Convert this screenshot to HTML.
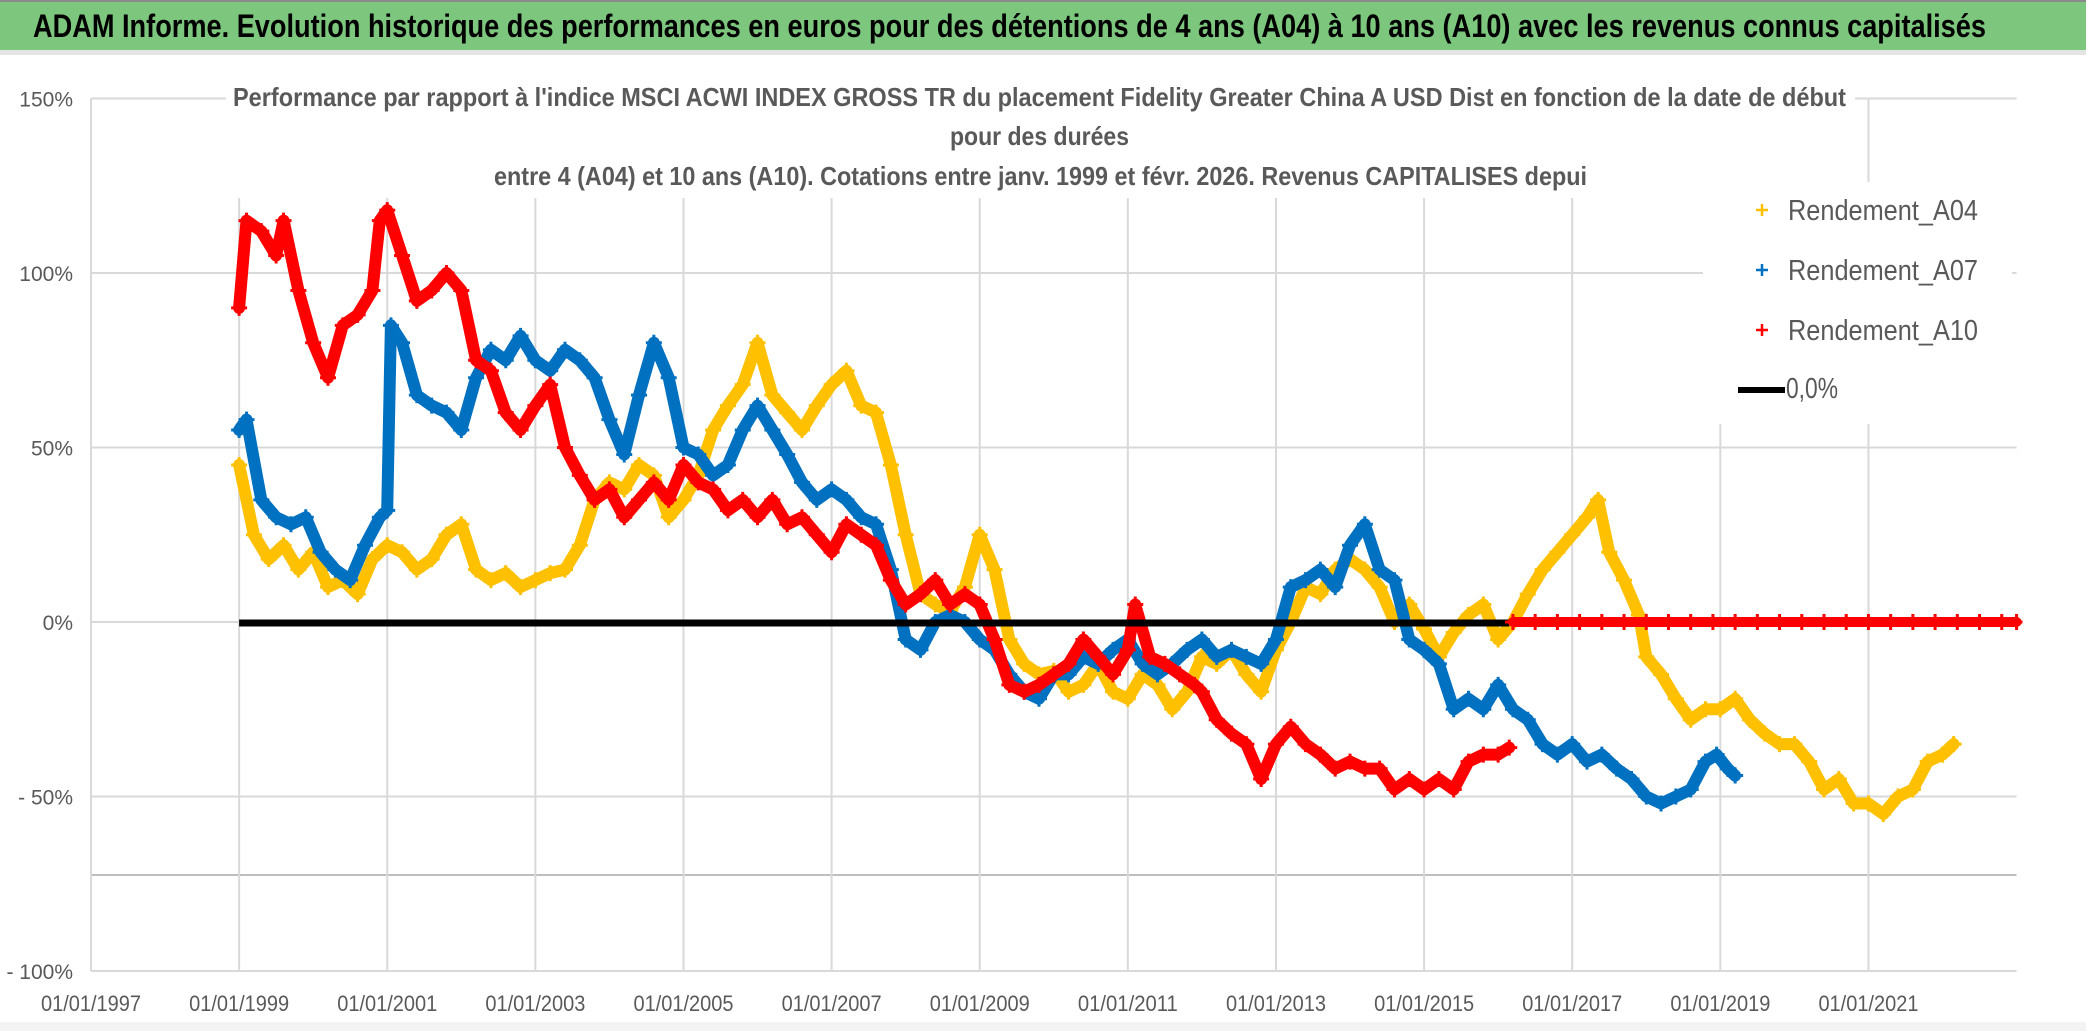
<!DOCTYPE html>
<html><head><meta charset="utf-8"><style>
html,body{margin:0;padding:0;background:#fff;}
svg{display:block;font-family:"Liberation Sans",sans-serif;}
</style></head><body>
<svg id="chart" width="2086" height="1031" viewBox="0 0 2086 1031" xmlns="http://www.w3.org/2000/svg">
<rect x="0" y="0" width="2086" height="1031" fill="#fff"/>
<rect x="0" y="0" width="2086" height="50" fill="#7dc67d"/>
<line x1="0" y1="1" x2="2086" y2="1" stroke="#8a8a8a" stroke-width="2"/>
<rect x="0" y="50" width="2086" height="5" fill="#e4e4e4"/>
<text x="33" y="37" font-size="32" font-weight="bold" fill="#000" textLength="1953" lengthAdjust="spacingAndGlyphs">ADAM Informe. Evolution historique des performances en euros pour des détentions de 4 ans (A04) à 10 ans (A10) avec les revenus connus capitalisés</text>
<g id="grid"></g>
<g id="marks"></g>
<rect x="226" y="68" width="1629" height="130" fill="#fff"/>
<g font-weight="bold" fill="#595959" font-size="26">
<text x="233" y="106" textLength="1613" lengthAdjust="spacingAndGlyphs">Performance par rapport à l'indice MSCI ACWI INDEX GROSS TR  du placement Fidelity Greater China A USD Dist en fonction de la date de début</text>
<text x="950" y="145" textLength="179" lengthAdjust="spacingAndGlyphs">pour des durées</text>
<text x="494" y="185" textLength="1093" lengthAdjust="spacingAndGlyphs">entre 4 (A04) et 10 ans (A10). Cotations entre janv. 1999 et févr. 2026. Revenus CAPITALISES depui</text>
</g>
<g id="legend">
<rect x="1703" y="182" width="309" height="242" fill="#fff"/>
<path d="M1756 210h12M1762 204v12" stroke="#ffc000" stroke-width="2.5"/>
<text x="1788" y="220" font-size="29" fill="#595959" textLength="190" lengthAdjust="spacingAndGlyphs">Rendement_A04</text>
<path d="M1756 270h12M1762 264v12" stroke="#0070c0" stroke-width="2.5"/>
<text x="1788" y="280" font-size="29" fill="#595959" textLength="190" lengthAdjust="spacingAndGlyphs">Rendement_A07</text>
<path d="M1756 330h12M1762 324v12" stroke="#ff0000" stroke-width="2.5"/>
<text x="1788" y="340" font-size="29" fill="#595959" textLength="190" lengthAdjust="spacingAndGlyphs">Rendement_A10</text>
<line x1="1738" y1="390" x2="1785" y2="390" stroke="#000" stroke-width="6"/>
<text x="1786" y="398" font-size="29" fill="#595959" textLength="52" lengthAdjust="spacingAndGlyphs">0,0%</text>
</g>
<g id="axes"></g>
<rect x="0" y="1022" width="2086" height="9" fill="#f3f3f3"/>
</svg>
<script>
const yTicks = [150, 100, 50, 0, -50, -100];
const yTickLabels = ["150%", "100%", "50%", "0%", "- 50%", "- 100%"];
const xTickYears = [1997, 1999, 2001, 2003, 2005, 2007, 2009, 2011, 2013, 2015, 2017, 2019, 2021];
const xTickLabels = ["01/01/1997","01/01/1999","01/01/2001","01/01/2003","01/01/2005","01/01/2007","01/01/2009","01/01/2011","01/01/2013","01/01/2015","01/01/2017","01/01/2019","01/01/2021"];

const a04Years = [1999.0,1999.2,1999.4,1999.6,1999.8,2000.0,2000.2,2000.4,2000.6,2000.8,2001.0,2001.2,2001.4,2001.6,2001.8,2002.0,2002.2,2002.4,2002.6,2002.8,2003.0,2003.2,2003.4,2003.6,2003.8,2004.0,2004.2,2004.4,2004.6,2004.8,2005.0,2005.2,2005.4,2005.6,2005.8,2006.0,2006.2,2006.4,2006.6,2006.8,2007.0,2007.2,2007.4,2007.6,2007.8,2008.0,2008.2,2008.4,2008.6,2008.8,2009.0,2009.2,2009.4,2009.6,2009.8,2010.0,2010.2,2010.4,2010.6,2010.8,2011.0,2011.2,2011.4,2011.6,2011.8,2012.0,2012.2,2012.4,2012.6,2012.8,2013.0,2013.2,2013.4,2013.6,2013.8,2014.0,2014.2,2014.4,2014.6,2014.8,2015.0,2015.2,2015.4,2015.6,2015.8,2016.0,2016.2,2016.4,2016.6,2016.8,2017.0,2017.2,2017.35,2017.5,2017.7,2017.9,2018.0,2018.2,2018.4,2018.6,2018.8,2019.0,2019.2,2019.4,2019.6,2019.8,2020.0,2020.2,2020.4,2020.6,2020.8,2021.0,2021.2,2021.4,2021.6,2021.8,2022.0,2022.15];
const a04Values = [45,25,18,22,15,20,10,12,8,18,22,20,15,18,25,28,15,12,14,10,12,14,15,22,35,40,38,45,42,30,35,42,55,62,68,80,65,60,55,62,68,72,62,60,45,25,8,5,3,10,25,15,-5,-12,-15,-14,-20,-18,-12,-20,-22,-15,-18,-25,-20,-10,-12,-8,-15,-20,-8,0,10,8,15,18,15,10,0,5,-2,-10,-3,2,5,-5,0,8,15,20,25,30,35,20,12,2,-10,-15,-22,-28,-25,-25,-22,-28,-32,-35,-35,-40,-48,-45,-52,-52,-55,-50,-48,-40,-38,-35];

const a07Years = [1999.0,1999.1,1999.3,1999.5,1999.7,1999.9,2000.1,2000.3,2000.5,2000.7,2000.9,2001.0,2001.05,2001.2,2001.4,2001.6,2001.8,2002.0,2002.2,2002.4,2002.6,2002.8,2003.0,2003.2,2003.4,2003.6,2003.8,2004.0,2004.2,2004.4,2004.6,2004.8,2005.0,2005.2,2005.4,2005.6,2005.8,2006.0,2006.2,2006.4,2006.6,2006.8,2007.0,2007.2,2007.4,2007.6,2007.8,2008.0,2008.2,2008.4,2008.6,2008.8,2009.0,2009.2,2009.4,2009.6,2009.8,2010.0,2010.2,2010.4,2010.6,2010.8,2011.0,2011.2,2011.4,2011.6,2011.8,2012.0,2012.2,2012.4,2012.6,2012.8,2013.0,2013.2,2013.4,2013.6,2013.8,2014.0,2014.2,2014.4,2014.6,2014.8,2015.0,2015.2,2015.4,2015.6,2015.8,2016.0,2016.2,2016.4,2016.6,2016.8,2017.0,2017.2,2017.4,2017.6,2017.8,2018.0,2018.2,2018.4,2018.6,2018.8,2018.95,2019.1,2019.2];
const a07Values = [55,58,35,30,28,30,20,15,12,22,30,32,85,80,65,62,60,55,70,78,75,82,75,72,78,75,70,58,48,65,80,70,50,48,42,45,55,62,55,48,40,35,38,35,30,28,15,-5,-8,0,2,0,-5,-8,-15,-20,-22,-15,-15,-10,-12,-8,-5,-12,-15,-12,-8,-5,-10,-8,-10,-12,-5,10,12,15,10,22,28,15,12,-5,-8,-12,-25,-22,-25,-18,-25,-28,-35,-38,-35,-40,-38,-42,-45,-50,-52,-50,-48,-40,-38,-42,-44];

const a10Years = [1999.0,1999.1,1999.3,1999.5,1999.6,1999.8,2000.0,2000.2,2000.4,2000.6,2000.8,2000.9,2001.0,2001.2,2001.4,2001.6,2001.8,2002.0,2002.2,2002.4,2002.6,2002.8,2003.0,2003.2,2003.4,2003.6,2003.8,2004.0,2004.2,2004.4,2004.6,2004.8,2005.0,2005.2,2005.4,2005.6,2005.8,2006.0,2006.2,2006.4,2006.6,2006.8,2007.0,2007.2,2007.4,2007.6,2007.8,2008.0,2008.2,2008.4,2008.6,2008.8,2009.0,2009.2,2009.4,2009.6,2009.8,2010.0,2010.2,2010.4,2010.6,2010.8,2011.0,2011.1,2011.3,2011.5,2011.7,2011.9,2012.0,2012.2,2012.4,2012.6,2012.8,2013.0,2013.2,2013.4,2013.6,2013.8,2014.0,2014.2,2014.4,2014.6,2014.8,2015.0,2015.2,2015.4,2015.6,2015.8,2016.0,2016.15];
const a10Values = [90,115,112,105,115,95,80,70,85,88,95,115,118,105,92,95,100,95,75,72,60,55,62,68,50,42,35,38,30,35,40,35,45,40,38,32,35,30,35,28,30,25,20,28,25,22,12,5,8,12,5,8,5,-5,-18,-20,-18,-15,-12,-5,-10,-15,-8,5,-10,-12,-15,-18,-20,-28,-32,-35,-45,-35,-30,-35,-38,-42,-40,-42,-42,-48,-45,-48,-45,-48,-40,-38,-38,-36];

const a10ZeroYears = [2016.2,2016.5,2016.8,2017.1,2017.4,2017.7,2018.0,2018.3,2018.6,2018.9,2019.2,2019.5,2019.8,2020.1,2020.4,2020.7,2021.0,2021.3,2021.6,2021.9,2022.2,2022.5,2022.8,2023.0];
const a10ZeroValues = [0,0,0,0,0,0,0,0,0,0,0,0,0,0,0,0,0,0,0,0,0,0,0,0];
const zeroLineYears = [1999.0, 2016.15];
const zeroLineValues = [0, 0];

const X0 = 91, PX_PER_YEAR = 74.06, Y0 = 622, PX_PER_PCT = 3.49;
function xScale(yr){ return X0 + (yr - 1997) * PX_PER_YEAR; }
function yScale(v){ return Y0 - v * PX_PER_PCT; }
const NS = "http://www.w3.org/2000/svg";
const grid = document.getElementById('grid');
const marks = document.getElementById('marks');
const axes = document.getElementById('axes');
const plotRight = xScale(2023);

yTicks.forEach((t, i) => {
  const y = yScale(t);
  const l = document.createElementNS(NS, 'line');
  
  
  l.setAttribute('x1', X0); l.setAttribute('x2', plotRight);
  l.setAttribute('y1', y); l.setAttribute('y2', y);
  l.setAttribute('stroke', '#d9d9d9'); l.setAttribute('stroke-width', '2');
  grid.appendChild(l);
  const tx = document.createElementNS(NS, 'text');
  
  
  tx.setAttribute('x', 73); tx.setAttribute('y', y + 8);
  tx.setAttribute('text-anchor', 'end');
  tx.setAttribute('font-size', '21'); tx.setAttribute('fill', '#595959');
  tx.textContent = yTickLabels[i];
  axes.appendChild(tx);
});
const extra = document.createElementNS(NS, 'line');


extra.setAttribute('x1', X0); extra.setAttribute('x2', plotRight);
extra.setAttribute('y1', 875); extra.setAttribute('y2', 875);
extra.setAttribute('stroke', '#bfbfbf'); extra.setAttribute('stroke-width', '2');
grid.appendChild(extra);

xTickYears.forEach((yr, i) => {
  const x = xScale(yr);
  const l = document.createElementNS(NS, 'line');
  
  
  l.setAttribute('x1', x); l.setAttribute('x2', x);
  l.setAttribute('y1', yScale(150)); l.setAttribute('y2', yScale(-100));
  l.setAttribute('stroke', '#d9d9d9'); l.setAttribute('stroke-width', '2');
  grid.appendChild(l);
  const tx = document.createElementNS(NS, 'text');
  
  
  tx.setAttribute('x', x - 50); tx.setAttribute('y', 1011);
  tx.setAttribute('font-size', '22'); tx.setAttribute('fill', '#595959');
  tx.setAttribute('textLength', '100'); tx.setAttribute('lengthAdjust', 'spacingAndGlyphs');
  tx.textContent = xTickLabels[i];
  axes.appendChild(tx);
});

const clip = document.createElementNS(NS, 'clipPath');
clip.setAttribute('id', 'plotclip');


const cr = document.createElementNS(NS, 'rect');


cr.setAttribute('x', X0); cr.setAttribute('y', 198);
cr.setAttribute('width', plotRight - X0 + 6); cr.setAttribute('height', 780);
clip.appendChild(cr);
document.getElementById('chart').insertBefore(clip, grid);
marks.setAttribute('clip-path', 'url(#plotclip)');

function drawSeries(years, values, color, name, width){
  const pts = years.map((yr, i) => xScale(yr).toFixed(1) + ',' + yScale(values[i]).toFixed(1)).join(' ');
  const pl = document.createElementNS(NS, 'polyline');
  
  
  pl.setAttribute('points', pts);
  pl.setAttribute('fill', 'none'); pl.setAttribute('stroke', color);
  pl.setAttribute('stroke-width', width); pl.setAttribute('stroke-linejoin', 'round');
  pl.setAttribute('stroke-linecap', 'round');
  marks.appendChild(pl);
  years.forEach((yr, i) => {
    const x = xScale(yr), y = yScale(values[i]);
    const p = document.createElementNS(NS, 'path');
    
    
    p.setAttribute('d', 'M' + (x - 8) + ' ' + y + 'h16M' + x + ' ' + (y - 8) + 'v16');
    p.setAttribute('stroke', color); p.setAttribute('stroke-width', '3');
    marks.appendChild(p);
  });
}
drawSeries(a04Years, a04Values, '#ffc000', 'rendement-a04', 12);
drawSeries(a07Years, a07Values, '#0070c0', 'rendement-a07', 12);
drawSeries(a10Years, a10Values, '#ff0000', 'rendement-a10', 12);

const zl = document.createElementNS(NS, 'line');


zl.setAttribute('x1', xScale(zeroLineYears[0])); zl.setAttribute('x2', xScale(zeroLineYears[1]));
zl.setAttribute('y1', yScale(zeroLineValues[0]) + 1); zl.setAttribute('y2', yScale(zeroLineValues[1]) + 1);
zl.setAttribute('stroke', '#000'); zl.setAttribute('stroke-width', '7');
marks.appendChild(zl);
drawSeries(a10ZeroYears, a10ZeroValues, '#ff0000', 'rendement-a10-zero', 10);
</script>
</body></html>
